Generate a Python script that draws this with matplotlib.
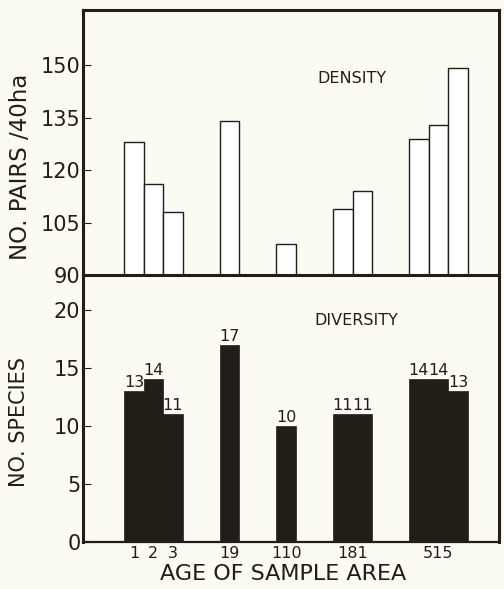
import numpy as np
import matplotlib
matplotlib.use("Agg")
import matplotlib.pyplot as plt

# sample areas, in the order they are drawn
age_labels = ['1', '2', '3', '19', '110', '181', '515']
density = [128, 116, 108, 134, 99, 109, 114, 129, 133, 149]   # pairs / 40 ha
species = [13, 14, 11, 17, 10, 11, 11, 14, 14, 13]           # no. of species

# bar centres (bars of the same age sit side by side)
bar_x = [0, 1, 2, 4.9, 7.8, 10.7, 11.7, 14.6, 15.6, 16.6]
label_x = [0, 1, 2, 4.9, 7.8, 11.2, 15.6]

bg = '#fbfaf3'
ink = '#231d18'
plt.rcParams['font.family'] = ['DejaVu Sans']

fig = plt.figure(figsize=(5.04, 5.89), dpi=100, facecolor=bg)
ax1 = fig.add_axes([0.165, 0.533, 0.825, 0.450], facecolor=bg)
ax2 = fig.add_axes([0.165, 0.080, 0.825, 0.453], facecolor=bg)
ax1.set_zorder(3)

# density - open bars
ax1.bar(bar_x, density, width=1.0, bottom=0, facecolor='white', edgecolor=ink, linewidth=1.0)
ax1.set_ylim(90, 165.7)
ax1.set_yticks([90, 105, 120, 135, 150])
ax1.set_ylabel('NO. PAIRS /40ha', fontsize=16.5, color=ink)
ax1.yaxis.set_label_coords(-0.122, 0.41)
ax1.text(0.647, 0.743, 'DENSITY', transform=ax1.transAxes, ha='center', va='center',
         fontsize=11.5, color=ink)

# diversity - solid bars with counts on top
ax2.bar(bar_x, species, width=1.0, facecolor=ink, edgecolor=ink, linewidth=0.5)
for x, v in zip(bar_x, species):
    ax2.text(x, v + 0.1, str(v), ha='center', va='bottom', fontsize=11.5, color=ink)
ax2.set_ylim(0, 23)
ax2.set_yticks([0, 5, 10, 15, 20])
ax2.set_ylabel('NO. SPECIES', fontsize=15, color=ink)
ax2.yaxis.set_label_coords(-0.13, 0.45)
ax2.text(0.656, 0.83, 'DIVERSITY', transform=ax2.transAxes, ha='center', va='center',
         fontsize=11.5, color=ink)
ax2.set_xticks(label_x)
ax2.set_xticklabels(age_labels, fontsize=11.5, color=ink)
ax2.set_xlabel('AGE OF SAMPLE AREA', fontsize=16, color=ink)
ax2.xaxis.set_label_coords(0.48, -0.082)

for ax in (ax1, ax2):
    ax.set_xlim(-2.6, 18.7)
    ax.tick_params(axis='y', direction='in', length=6, width=0.8, pad=2,
                   labelsize=15, colors=ink)
    ax.tick_params(axis='x', length=0, pad=3)
    for s in ax.spines.values():
        s.set_linewidth(2.2)
        s.set_color(ink)
ax1.set_xticks([])
ax2.spines['top'].set_visible(False)
ax2.spines['bottom'].set_linewidth(1.6)

fig.savefig('out.png', dpi=100, facecolor=bg)
